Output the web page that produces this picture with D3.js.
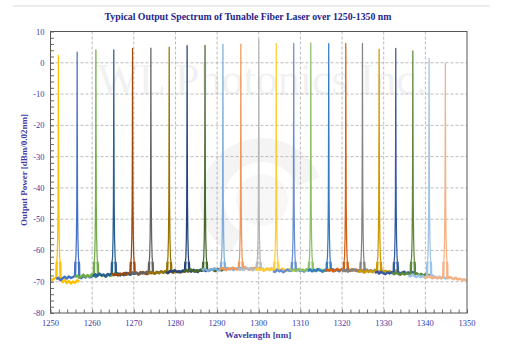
<!DOCTYPE html>
<html><head><meta charset="utf-8">
<script src="https://cdn.jsdelivr.net/npm/d3@7"></script>
<style>html,body{margin:0;padding:0;background:#fff;}svg{display:block;}</style>
</head><body>
<svg id="chart" width="505" height="352"></svg>
<script>
// ---- data ----
const title = "Typical Output Spectrum of Tunable Fiber Laser over 1250-1350 nm";
const xLabel = "Wavelength [nm]";
const yLabel = "Output Power [dBm/0.02nm]";
const xTicks = [1250,1260,1270,1280,1290,1300,1310,1320,1330,1340,1350];
const yTicks = [10,0,-10,-20,-30,-40,-50,-60,-70,-80];

const peakWavelengths = [1251.9,1256.4,1260.9,1265.2,1269.7,1274.1,1278.5,1282.8,1287.1,1291.4,1295.7,1300.0,
  1304.2,1308.4,1312.5,1316.8,1320.9,1324.9,1328.9,1332.9,1337.0,1340.9,1344.8];
const peakPowers = [2.4,3.4,4.1,4.1,4.6,4.7,5.0,5.5,5.6,5.9,6.0,7.5,6.2,6.2,6.4,6.1,6.2,6.2,4.4,4.6,3.8,1.4,-0.1];
const seriesColors = ["#FFC000","#4472C4","#70AD47","#255E91","#9E480E","#636363","#997300","#264478","#43682B",
  "#7CAFDD","#F1975A","#B7B7B7","#FFCD33","#698ED0","#8CC168","#327DC2","#D26012","#848484","#CC9A00","#335AA1",
  "#5A8A39","#9DC3E6","#F4B183"];

// baseline sample offsets from each peak (nm) and the read noise floor values (dBm)
const baseOffsets = [-5,-4.5,-4,-3.5,-3,-2.5,-2,-1.5,-1,-0.5,0.5,1,1.5,2,2.5,3,3.5,4,4.5,5];
const baselines = [
 [-69.0,-69.6,-68.8,-69.4,-70.2,-69.1,-68.7,-69.5,-69.0,-68.6,-69.3,-70.1,-69.4,-70.4,-69.8,-70.6,-69.9,-70.3,-69.5,-70.0],
 [-69.2,-68.7,-69.5,-68.9,-68.4,-69.0,-68.3,-68.8,-68.5,-68.1,-68.4,-68.9,-68.2,-68.7,-68.0,-68.6,-68.3,-67.9,-68.5,-68.1],
 [-68.6,-68.0,-68.8,-68.3,-67.7,-68.5,-67.9,-68.4,-67.6,-68.1,-68.0,-67.5,-68.2,-67.8,-68.4,-67.6,-68.1,-67.9,-67.3,-68.0],
 [-68.3,-67.6,-68.1,-67.4,-68.0,-67.7,-68.4,-67.5,-67.9,-67.2,-67.8,-67.3,-68.0,-67.5,-67.9,-67.1,-67.6,-67.8,-67.2,-67.7],
 [-67.3,-67.9,-67.5,-68.0,-67.4,-67.7,-67.2,-67.8,-67.4,-67.0,-67.5,-67.1,-67.7,-67.3,-66.9,-67.4,-67.6,-67.0,-67.3,-66.8],
 [-67.6,-67.0,-67.5,-67.1,-67.7,-66.9,-67.4,-67.2,-66.8,-67.3,-67.0,-67.4,-66.8,-67.2,-66.7,-67.1,-66.9,-67.3,-66.6,-67.0],
 [-67.4,-66.8,-67.2,-67.5,-66.9,-67.3,-66.7,-67.1,-66.6,-67.0,-66.8,-67.2,-66.5,-66.9,-67.1,-66.6,-66.9,-66.4,-66.8,-66.5],
 [-66.9,-67.2,-66.5,-66.8,-66.3,-66.9,-66.6,-67.0,-66.4,-66.7,-66.5,-66.8,-66.2,-66.6,-66.9,-66.3,-66.5,-66.1,-66.6,-66.4],
 [-66.7,-66.2,-66.6,-66.0,-66.5,-66.8,-66.3,-66.6,-66.1,-66.4,-66.2,-66.5,-66.0,-66.3,-66.6,-65.9,-66.2,-66.4,-65.8,-66.1],
 [-66.4,-65.8,-66.3,-66.6,-66.0,-66.2,-65.7,-66.1,-66.4,-65.9,-66.0,-65.6,-66.1,-65.8,-66.3,-65.7,-66.0,-65.5,-65.9,-66.2],
 [-66.1,-65.6,-65.9,-66.3,-65.7,-66.0,-65.5,-65.8,-66.1,-65.6,-65.9,-65.4,-65.8,-66.2,-65.6,-65.9,-65.5,-66.0,-65.7,-66.1],
 [-65.7,-66.2,-65.8,-66.1,-65.5,-66.0,-65.7,-66.3,-65.9,-65.6,-66.1,-65.8,-66.3,-65.9,-66.2,-65.7,-66.0,-66.4,-65.8,-66.1],
 [-66.4,-65.8,-66.2,-65.9,-66.5,-66.0,-65.7,-66.3,-65.9,-66.2,-66.0,-66.4,-65.8,-66.2,-66.6,-66.0,-66.3,-65.9,-66.5,-66.1],
 [-66.6,-66.9,-66.2,-66.7,-66.4,-67.0,-66.5,-66.1,-66.6,-66.3,-66.5,-66.1,-66.6,-66.3,-66.8,-66.2,-66.5,-66.0,-66.4,-66.7],
 [-66.0,-66.5,-66.2,-66.6,-65.9,-66.4,-66.1,-66.5,-66.0,-66.3,-66.2,-66.6,-66.0,-66.4,-66.1,-66.7,-66.3,-65.9,-66.4,-66.2],
 [-66.5,-66.1,-66.7,-66.2,-66.6,-65.9,-66.4,-66.8,-66.2,-66.5,-66.3,-66.0,-66.5,-66.2,-66.7,-66.1,-66.4,-66.6,-66.0,-66.3],
 [-66.6,-66.2,-66.5,-66.0,-66.7,-66.3,-65.9,-66.4,-66.1,-66.5,-66.2,-66.6,-66.0,-66.4,-66.1,-66.7,-66.3,-66.5,-66.0,-66.4],
 [-66.1,-66.6,-66.3,-66.8,-66.2,-66.5,-66.0,-66.6,-66.3,-66.7,-66.4,-66.1,-66.6,-66.3,-66.8,-66.2,-66.5,-66.9,-66.3,-66.6],
 [-66.9,-66.4,-66.8,-67.1,-66.5,-66.9,-66.6,-67.0,-66.4,-66.8,-66.7,-67.1,-66.5,-66.9,-66.6,-67.2,-66.8,-66.4,-66.9,-67.0],
 [-67.2,-66.8,-67.4,-66.9,-67.3,-67.6,-67.0,-67.4,-66.9,-67.2,-67.0,-67.5,-67.1,-66.8,-67.3,-67.0,-67.4,-66.9,-67.2,-67.6],
 [-67.2,-67.6,-67.1,-67.5,-67.8,-67.3,-67.7,-67.2,-67.6,-67.4,-67.7,-67.3,-67.9,-67.5,-68.0,-67.6,-68.2,-67.8,-68.1,-68.4],
 [-67.9,-68.3,-67.7,-68.2,-68.5,-68.0,-68.6,-68.2,-68.7,-68.3,-68.5,-68.1,-68.6,-68.9,-68.4,-68.8,-68.5,-69.0,-68.6,-68.9],
 [-68.3,-68.7,-68.2,-68.6,-68.9,-68.4,-68.8,-68.5,-69.0,-68.6,-68.9,-68.5,-68.8,-69.2,-68.7,-69.3,-69.0,-69.5,-69.2,-69.7]
];
// shared peak skirt: offsets (nm) and levels (dBm); centre uses the peak power
const skirtOffsets = [-0.45,-0.3,-0.18,-0.09,-0.04,0,0.04,0.09,0.18,0.3,0.45];
const skirtLevels  = [-64.5,-62,-56,-44,-22,null,-22,-44,-56,-62,-64.5];

// ---- layout ----
const svg = d3.select("#chart");
const m = {left:50.5, right:467, top:31.5, bottom:313};
const x = d3.scaleLinear().domain([1250,1350]).range([m.left,m.right]);
const y = d3.scaleLinear().domain([-80,10]).range([m.bottom,m.top]);
const labelColor = "#3a3aa8";
const serif = "'Liberation Serif','Times New Roman',serif";

// top separator line
svg.append("line").attr("x1",13).attr("x2",490).attr("y1",6).attr("y2",6)
  .attr("stroke","#e6e6e6").attr("stroke-width",1.5);

// title
svg.append("text").attr("x",248).attr("y",20).attr("text-anchor","middle")
  .attr("font-family",serif).attr("font-weight","bold").attr("font-size",9.8)
  .attr("fill","#1f1f8f").text(title);

// clips: whole plot, upper (thin peaks) and lower (thicker noise floor)
const defs = svg.append("defs");
defs.append("clipPath").attr("id","plotclip").append("rect")
  .attr("x",m.left).attr("y",m.top).attr("width",m.right-m.left).attr("height",m.bottom-m.top);
const split = y(-63.5);
defs.append("clipPath").attr("id","upclip").append("rect")
  .attr("x",m.left).attr("y",m.top).attr("width",m.right-m.left).attr("height",split-m.top);
defs.append("clipPath").attr("id","lowclip").append("rect")
  .attr("x",m.left).attr("y",split).attr("width",m.right-m.left).attr("height",m.bottom-split);

// watermark
const wm = svg.append("g").attr("clip-path","url(#plotclip)");
wm.append("text").attr("x",262).attr("y",94).attr("text-anchor","middle")
  .attr("font-family",serif).attr("font-size",44).attr("fill","#000").attr("opacity",0.05)
  .text("WL Photonics Inc.");
wm.append("path").attr("d", d3.arc()({innerRadius:38,outerRadius:62,startAngle:-2.6,endAngle:1.2}))
  .attr("transform","translate(262,200)").attr("fill","#000").attr("opacity",0.045);
wm.append("path").attr("d", d3.arc()({innerRadius:0,outerRadius:26,startAngle:0,endAngle:6.3}))
  .attr("transform","translate(262,200)").attr("fill","#000").attr("opacity",0.03);

// gridlines
const grid = svg.append("g");
grid.selectAll(".vg").data(xTicks.slice(1,-1)).enter().append("line")
  .attr("x1",d=>x(d)).attr("x2",d=>x(d)).attr("y1",m.top).attr("y2",m.bottom)
  .attr("stroke","#aaaaaa").attr("stroke-width",0.8).attr("stroke-dasharray","3,2");
grid.selectAll(".hg").data(yTicks.slice(1,-1)).enter().append("line")
  .attr("y1",d=>y(d)).attr("y2",d=>y(d)).attr("x1",m.left).attr("x2",m.right)
  .attr("stroke","#aaaaaa").attr("stroke-width",0.8).attr("stroke-dasharray","3,2");

// series
const series = peakWavelengths.map((p,i)=>{
  const pts = baseOffsets.map((o,j)=>[p+o, baselines[i][j]]);
  skirtOffsets.forEach((o,j)=>pts.push([p+o, skirtLevels[j]===null ? peakPowers[i] : skirtLevels[j]]));
  pts.sort((a,b)=>a[0]-b[0]);
  return {color:seriesColors[i], pts:pts.filter(d=>d[0]>=1249.5 && d[0]<=1350.5)};
});
const line = d3.line().x(d=>x(d[0])).y(d=>y(d[1]));
const sg = svg.append("g").attr("clip-path","url(#plotclip)");
const sgi = sg.selectAll("g").data(series).enter().append("g");
sgi.append("path").attr("clip-path","url(#upclip)")
  .attr("d",d=>line(d.pts)).attr("fill","none").attr("stroke",d=>d.color)
  .attr("stroke-width",1.25).attr("stroke-linejoin","round");
sgi.append("path").attr("clip-path","url(#lowclip)")
  .attr("d",d=>line(d.pts)).attr("fill","none").attr("stroke",d=>d.color)
  .attr("stroke-width",2.4).attr("stroke-linejoin","round");

// axes (ticks inside)
const xAxis = d3.axisBottom(x).tickValues(d3.range(1250,1351,2)).tickSize(-3.5).tickFormat("");
const gx = svg.append("g").attr("transform",`translate(0,${m.bottom})`).call(xAxis);
const yAxis = d3.axisLeft(y).tickValues(d3.range(-80,11,2)).tickSize(-3.5).tickFormat("");
const gy = svg.append("g").attr("transform",`translate(${m.left},0)`).call(yAxis);
[gx,gy].forEach(g=>{g.select(".domain").remove(); g.selectAll("line").attr("stroke","#444").attr("stroke-width",0.8);});

// border
svg.append("rect").attr("x",m.left).attr("y",m.top).attr("width",m.right-m.left).attr("height",m.bottom-m.top)
  .attr("fill","none").attr("stroke","#555").attr("stroke-width",1);

// tick labels
svg.append("g").selectAll("text").data(xTicks).enter().append("text")
  .attr("x",d=>x(d)).attr("y",m.bottom+13).attr("text-anchor","middle")
  .attr("font-family",serif).attr("font-size",8.5).attr("fill",labelColor).text(d=>d);
svg.append("g").selectAll("text").data(yTicks).enter().append("text")
  .attr("x",m.left-6).attr("y",d=>y(d)+3).attr("text-anchor","end")
  .attr("font-family",serif).attr("font-size",8.5).attr("fill",labelColor).text(d=>d);

// axis titles
svg.append("text").attr("x",258).attr("y",338).attr("text-anchor","middle")
  .attr("font-family",serif).attr("font-weight","bold").attr("font-size",9)
  .attr("fill",labelColor).text(xLabel);
svg.append("text").attr("transform","translate(27,170) rotate(-90)").attr("text-anchor","middle")
  .attr("font-family",serif).attr("font-weight","bold").attr("font-size",9)
  .attr("fill",labelColor).text(yLabel);
</script>
</body></html>
